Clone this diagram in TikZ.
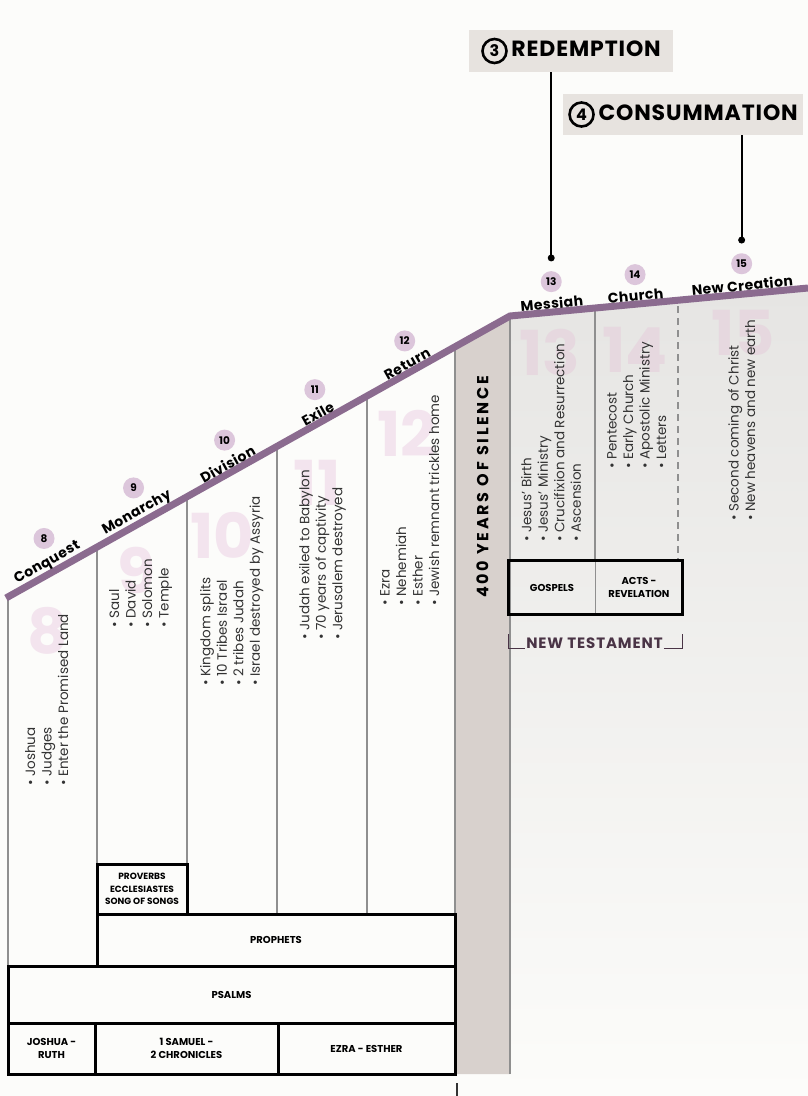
\documentclass[tikz,border=0pt]{standalone}
\usepackage{fontspec}
\setmainfont{Poppins}
\usepackage{tikz}
\usetikzlibrary{positioning,calc}

\definecolor{linepurple}{HTML}{8B6B8F}
\definecolor{dotpink}{HTML}{DCC6DB}
\definecolor{bigpink}{HTML}{F3E4EE}
\definecolor{bigpinkgray}{HTML}{E6D8DF}
\definecolor{silencegray}{HTML}{D8D1CD}
\definecolor{titlegray}{HTML}{E7E3DF}
\definecolor{colgray}{HTML}{8F8F8F}
\definecolor{pagebg}{HTML}{FCFCFA}
\definecolor{fadegray}{HTML}{E6E5E3}
\definecolor{ntpurple}{HTML}{4A3446}
\definecolor{textgray}{HTML}{333333}

\newcommand{\circnum}[1]{\tikz[baseline=(c.base)]\node[circle,draw,line width=2.6pt,inner sep=1pt,minimum size=24pt](c){\fontsize{16}{16}\selectfont\bfseries #1};}

\begin{document}
\begin{tikzpicture}[x=1pt, y=1pt,
        seglabel/.style={sloped, above=3pt, inner sep=0pt, font=\fontsize{14}{14}\selectfont\bfseries\addfontfeatures{LetterSpace=3}},
        numdot/.style={circle, fill=dotpink, minimum size=21pt, inner sep=0pt, font=\fontsize{10.5}{10.5}\selectfont\bfseries},
        bignum/.style={text=bigpink, inner sep=0pt, font=\fontsize{62}{62}\selectfont\bfseries},
        events/.style={rotate=90, anchor=north west, align=left, inner sep=0pt, text=textgray, font=\fontsize{13.5}{16.5}\selectfont},
        book/.style={draw=black, line width=3pt, align=center, inner sep=0pt, font=\fontsize{10}{12.5}\selectfont\bfseries},
        titlebox/.style={fill=titlegray, inner sep=0pt, font=\fontsize{22}{22}\selectfont\bfseries\addfontfeatures{LetterSpace=4}},
        colline/.style={draw=colgray, line width=1.3pt},
        stalk/.style={draw=black, line width=2pt},
        bracket/.style={draw=ntpurple, line width=1.3pt}
    ]
        % Page
        \fill[pagebg] (0,0) rectangle (808,-1096);
        \useasboundingbox (0,0) rectangle (808,-1096);

        % Timeline points
        \coordinate (start) at (6,-598);
        \coordinate (bend) at (510,-316);
        \coordinate (finish) at (808,-288);

        % Backgrounds
        \shade[top color=fadegray, bottom color=pagebg] (bend) -- (finish) -- (808,-1096) -- (510,-1096) -- cycle;
        \fill[silencegray] (455,-347) -- (bend) -- (510,-1074) -- (455,-1074) -- cycle;

        % Big faded numbers
        \node[bignum] (big8) at (48,-631) {8};
        \node[bignum] (big9) at (137,-570) {9};
        \node[bignum] (big10) at (222,-535) {10};
        \node[bignum] (big11) at (317,-483) {11};
        \node[bignum] (big12) at (407,-433) {12};
        \node[bignum, text=bigpinkgray] (big13) at (550,-353) {13};
        \node[bignum, text=bigpinkgray] (big14) at (635,-350) {14};
        \node[bignum, text=bigpinkgray] (big15) at (743,-333) {15};

        % Column lines
        \draw[colline] (8,-597) -- (8,-966);
        \draw[colline] (97,-547) -- (97,-864);
        \draw[colline] (187,-497) -- (187,-864);
        \draw[colline] (277,-446) -- (277,-914);
        \draw[colline] (367,-396) -- (367,-914);
        \draw[colline] (455,-347) -- (455,-1074);
        \draw[colline] (bend) -- (510,-1074);
        \draw[colline] (595,-308) -- (595,-562);
        \draw[colline, dashed, dash pattern=on 7pt off 5pt] (678,-306) -- (678,-562);

        % Events
        \node[events] (ev8) at (25,-786) {\textbullet\ Joshua\\ \textbullet\ Judges\\ \textbullet\ Enter the Promised Land};
        \node[events] (ev9) at (109,-628) {\textbullet\ Saul\\ \textbullet\ David\\ \textbullet\ Solomon\\ \textbullet\ Temple};
        \node[events] (ev10) at (200,-686) {\textbullet\ Kingdom splits\\ \textbullet\ 10 Tribes Israel\\ \textbullet\ 2 tribes Judah\\ \textbullet\ Israel destroyed by Assyria};
        \node[events] (ev11) at (299,-640) {\textbullet\ Judah exiled to Babylon\\ \textbullet\ 70 years of captivity\\ \textbullet\ Jerusalem destroyed};
        \node[events] (ev12) at (380,-606) {\textbullet\ Ezra\\ \textbullet\ Nehemiah\\ \textbullet\ Esther\\ \textbullet\ Jewish remnant trickles home};
        \node[events] (ev13) at (521,-542) {\textbullet\ Jesus' Birth\\ \textbullet\ Jesus' Ministry\\ \textbullet\ Crucifixion and Resurrection\\ \textbullet\ Ascension};
        \node[events] (ev14) at (607,-469) {\textbullet\ Pentecost\\ \textbullet\ Early Church\\ \textbullet\ Apostolic Ministry\\ \textbullet\ Letters};
        \node[events] (ev15) at (728,-521) {\textbullet\ Second coming of Christ\\ \textbullet\ New heavens and new earth};

        % Silence
        \node[rotate=90, anchor=west, inner sep=0pt, font=\fontsize{16}{16}\selectfont\bfseries\addfontfeatures{LetterSpace=17}] (silence) at (482.5,-598) {400 YEARS OF SILENCE};

        % Old testament books
        \node[book, minimum width=90, minimum height=50, font=\fontsize{9}{12.5}\selectfont\bfseries] (proverbs) at (142,-889) {PROVERBS\\ECCLESIASTES\\SONG OF SONGS};
        \node[book, minimum width=358, minimum height=52] (prophets) at (276,-940) {PROPHETS};
        \node[book, minimum width=447, minimum height=57] (psalms) at (231.5,-994.5) {PSALMS};
        \node[book, minimum width=87, minimum height=51] (joshua) at (51.5,-1048.5) {JOSHUA -\\RUTH};
        \node[book, minimum width=183, minimum height=51] (samuel) at (186.5,-1048.5) {1 SAMUEL -\\2 CHRONICLES};
        \node[book, minimum width=177, minimum height=51] (ezra) at (366.5,-1048.5) {EZRA - ESTHER};

        % New testament books
        \node[book, draw=none, minimum width=84, minimum height=51] (gospels) at (552,-587.5) {GOSPELS};
        \node[book, draw=none, minimum width=84, minimum height=51, right=0pt of gospels] (acts) {ACTS -\\REVELATION};
        \draw[colline] (gospels.north east) -- (gospels.south east);
        \draw[line width=3pt] (gospels.north west) rectangle (acts.south east);
        \node[text=ntpurple, inner sep=1pt, font=\fontsize{15}{15}\selectfont\bfseries\addfontfeatures{LetterSpace=6}] (nt) at (594.5,-643) {NEW TESTAMENT};
        \draw[bracket] (nt.base west) -- (gospels.south west |- nt.base) -- ++(0,14);
        \draw[bracket] (nt.base east) -- (acts.south east |- nt.base) -- ++(0,14);

        % Timeline
        \draw[linepurple, line width=7pt] (start) -- (bend) -- (finish);
        \path (start) -- (bend)
            node[seglabel, pos=0.092] (conquest) {Conquest}
            node[seglabel, pos=0.270] (monarchy) {Monarchy}
            node[seglabel, pos=0.448] (division) {Division}
            node[seglabel, pos=0.627] (exile) {Exile}
            node[seglabel, pos=0.804] (return) {Return};
        \path (bend) -- (finish)
            node[seglabel, pos=0.143] (messiah) {Messiah}
            node[seglabel, pos=0.424] (church) {Church}
            node[seglabel, pos=0.782] (newcreation) {New Creation};

        % Era numbers
        \node[numdot, above=8pt of conquest] (n8) {8};
        \node[numdot, above=8pt of monarchy] (n9) {9};
        \node[numdot, above=8pt of division] (n10) {10};
        \node[numdot, above=8pt of exile] (n11) {11};
        \node[numdot, above=8pt of return] (n12) {12};
        \node[numdot, above=5pt of messiah] (n13) {13};
        \node[numdot, above=5pt of church] (n14) {14};
        \node[numdot, above=5pt of newcreation] (n15) {15};

        % Headings
        \node[titlebox, minimum width=204, minimum height=42] (redemption) at (571,-51) {\circnum{3}\,REDEMPTION};
        \node[titlebox, minimum width=240, minimum height=41] (consummation) at (683,-114.5) {\circnum{4}\,CONSUMMATION};
        \coordinate[above=13pt of n13] (dot13);
        \coordinate[above=13pt of n15] (dot15);
        \draw[stalk] (dot13) -- (dot13 |- redemption.south);
        \draw[stalk] (dot15) -- (dot15 |- consummation.south);
        \fill (dot13) circle (3.5);
        \fill (dot15) circle (3.5);

        % Bottom tick
        \coordinate (tick) at (457,-1083);
        \draw[line width=1.2pt, black!80] (tick) -- ++(0,-13);
    \end{tikzpicture}
\end{document}
